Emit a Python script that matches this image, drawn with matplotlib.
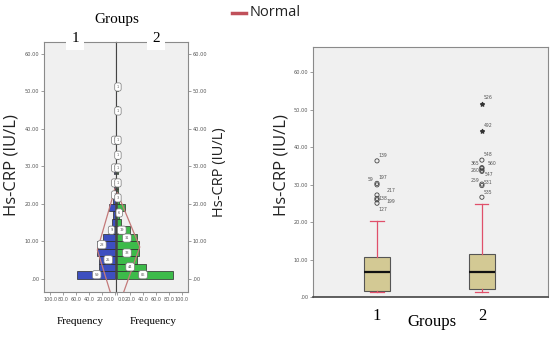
import matplotlib
matplotlib.use("Agg")
import matplotlib.pyplot as plt
from matplotlib.lines import Line2D

# --- data ---
bin_edges = list(range(0, 54, 2))          # lower edge of each 2-unit bin
freq_g1 = [59, 24, 25, 28, 28, 18, 9, 5, 3, 9, 3, 1, 1, 0, 1, 0, 0, 0, 1, 0, 0, 0, 0, 0, 0, 0, 0]
freq_g2 = [86, 44, 31, 33, 33, 31, 19, 6, 3, 12, 3, 1, 1, 0, 1, 0, 1, 0, 1, 0, 0, 0, 1, 0, 0, 1, 0]

# normal curve vertices (value, frequency)
norm1_val = [-3.5, 7.7, 22.0, 24.0]
norm1_frq = [7, 27, 3, 0]
norm2_val = [-3.5, 8.5, 23.0]
norm2_frq = [10, 35, 0]

# little count labels on the pyramid (frequency position, value)
lab1 = [(28, 1.1, "59"), (10, 5.1, "25"), (20, 9.1, "28"), (5, 13.0, "9"),
        (0, 22.4, "1"), (0, 25.6, "1"), (0, 29.6, "1"), (0, 37.0, "1")]
lab2 = [(40, 1.1, "86"), (20, 3.2, "44"), (15, 6.9, "33"), (15, 10.9, "31"),
        (7, 13.0, "19"), (3, 17.6, "6"), (1, 21.6, "3"), (1, 25.6, "1"),
        (1, 29.6, "1"), (1, 33.0, "1"), (1, 37.0, "1"), (1, 44.8, "1"), (1, 51.2, "1")]

groups = ["1", "2"]
q1 = [1.76, 2.1]
med = [6.7, 6.8]
q3 = [10.7, 11.5]
whis_lo = [1.3, 1.5]
whis_hi = [20.3, 24.8]

out1_val = [36.4, 30.0, 30.4, 27.3, 26.4, 26.0, 25.1]
out1_id = ["139", "59", "197", "217", "138", "199", "127"]
out2_val = [36.6, 34.6, 34.4, 33.9, 33.6, 30.2, 29.8, 26.7]
out2_id = ["548", "365", "560", "260", "547", "259", "531", "535"]
ext2_val = [51.7, 44.4]
ext2_id = ["526", "492"]

yticks = [0, 10, 20, 30, 40, 50, 60]
ytick_lbl = [".00", "10.00", "20.00", "30.00", "40.00", "50.00", "60.00"]
xticks = [0, 20, 40, 60, 80, 100]
xtick_lbl = ["0.0", "20.0", "40.0", "60.0", "80.0", "100.0"]

# where each case number sits next to its point (offset in points)
id_offset = {"139": (4, 4), "59": (-4.5, 3.5), "197": (4.5, 4), "217": (10, 3),
             "138": (4.5, 0), "199": (10, -1.5), "127": (4.5, -4.5),
             "526": (4.5, 4), "492": (4.5, 4), "548": (4.5, 4), "365": (-5, 3),
             "560": (7, 3.5), "260": (-5, -0.5), "547": (5.5, -2.5), "259": (-5, 2.5),
             "531": (4.5, 2), "535": (4.5, 3.5)}

W, H = 550, 337
fig = plt.figure(figsize=(5.5, 3.37), dpi=100)
fig.patch.set_facecolor("white")

def fx(px):
    return px / W

def fy(py):
    return 1 - py / H

bg = "#f0f0f0"
frame = "#8a8a8a"
blue = "#3d4fc0"
green = "#3dbb4a"
red_n = "#c47a7a"

# --- population pyramid ---
axL = fig.add_axes([fx(44), fy(292), fx(72), 250 / H])
axR = fig.add_axes([fx(116), fy(292), fx(72), 250 / H], sharey=axL)

for ax, freqs, color, nv, nf, labs in [(axL, freq_g1, blue, norm1_val, norm1_frq, lab1),
                                        (axR, freq_g2, green, norm2_val, norm2_frq, lab2)]:
    ax.set_facecolor(bg)
    lo = [b for b, f in zip(bin_edges, freqs) if f > 0]
    fr = [f for f in freqs if f > 0]
    ax.barh(lo, fr, height=2, align="edge", color=color,
            edgecolor="#2a2a2a", linewidth=0.5, zorder=2)
    ax.plot(nf, nv, color=red_n, lw=0.9, zorder=3)
    for f, v, t in labs:
        ax.text(f, v, t, fontsize=2.5, ha="center", va="center", color="#555555", zorder=4,
                bbox=dict(boxstyle="round,pad=0.6", fc="white", ec="#777777", lw=0.5))
    ax.set_xticks(xticks)
    ax.set_xticklabels(xtick_lbl, fontsize=3.5, color="#555555")
    ax.tick_params(axis="both", length=2, width=0.5, color="#777777", pad=1.5)
    for s in ax.spines.values():
        s.set_color(frame)
        s.set_linewidth(0.8)

axL.set_xlim(110, -2)
axR.set_xlim(-2, 110)
axL.get_xticklabels()[0].set_ha("right")
axR.get_xticklabels()[0].set_ha("left")
axL.set_ylim(-3.5, 63.2)
axL.set_yticks(yticks)
axL.set_yticklabels(ytick_lbl, fontsize=3.6, color="#555555")
axR.yaxis.tick_right()
axR.tick_params(axis="y", labelright=True, labelleft=False)
axR.set_yticklabels(ytick_lbl, fontsize=3.6, color="#555555")
axL.spines["right"].set_color("#444444")
axR.spines["left"].set_color("#444444")

serif = "Liberation Serif"
fig.text(fx(117), fy(20), "Groups", fontsize=11, family=serif, ha="center", va="center")
fig.text(fx(75), fy(38), "1", fontsize=11, family=serif, ha="center", va="center",
         bbox=dict(boxstyle="square,pad=0.35", fc="white", ec="none"))
fig.text(fx(156), fy(38), "2", fontsize=11, family=serif, ha="center", va="center",
         bbox=dict(boxstyle="square,pad=0.35", fc="white", ec="none"))
fig.text(fx(80), fy(322), "Frequency", fontsize=8, family=serif, ha="center", va="center")
fig.text(fx(153), fy(322), "Frequency", fontsize=8, family=serif, ha="center", va="center")

sans = "Open Sans"
fig.text(fx(12), fy(165), "Hs-CRP (IU/L)", fontsize=12, family=sans, rotation=90,
         ha="center", va="center", color="#222222")
fig.text(fx(220), fy(172), "Hs-CRP (IU/L)", fontsize=10.5, family=sans, rotation=90,
         ha="center", va="center", color="#222222")

# legend
fig.add_artist(Line2D([fx(232), fx(246)], [fy(13), fy(13)], color="#c0505a", lw=2.5))
fig.text(fx(250), fy(13), "Normal", fontsize=10.5, family=sans, ha="left", va="center",
         color="#222222")

# --- box plot ---
axB = fig.add_axes([fx(313), fy(297.3), 235 / W, 250 / H])
axB.set_facecolor(bg)
stats = []
for i in range(2):
    stats.append(dict(med=med[i], q1=q1[i], q3=q3[i], whislo=whis_lo[i], whishi=whis_hi[i],
                      fliers=[], label=groups[i]))
axB.bxp(stats, positions=[1, 2], widths=0.25, patch_artist=True, showfliers=False,
        boxprops=dict(facecolor="#d3c994", edgecolor="#555555", linewidth=0.8),
        medianprops=dict(color="#111111", linewidth=1.6),
        whiskerprops=dict(color="#e0506a", linewidth=0.9),
        capprops=dict(color="#e0506a", linewidth=0.9))

axB.scatter([1] * len(out1_val), out1_val, s=9, facecolors="none", edgecolors="#444444",
            linewidths=0.6, zorder=3)
axB.scatter([2] * len(out2_val), out2_val, s=9, facecolors="none", edgecolors="#444444",
            linewidths=0.6, zorder=3)
axB.scatter([2] * len(ext2_val), ext2_val, marker="*", s=8, color="#333333", zorder=3)

for x0, vals, ids in [(1, out1_val, out1_id), (2, out2_val, out2_id), (2, ext2_val, ext2_id)]:
    for v, t in zip(vals, ids):
        axB.annotate(t, (x0, v), xytext=id_offset[t], textcoords="offset points",
                     fontsize=3.3, color="#555555", ha="center", va="center")

axB.set_xlim(0.39, 2.63)
axB.set_ylim(0, 66.7)
axB.set_yticks(yticks)
axB.set_yticklabels(ytick_lbl, fontsize=3.6, color="#555555")
axB.set_xticks([1, 2])
axB.set_xticklabels(groups, fontsize=12, family=serif)
axB.tick_params(axis="y", length=2, width=0.5, color="#777777", pad=1.5)
axB.tick_params(axis="x", length=0, pad=8)
for s in axB.spines.values():
    s.set_color(frame)
    s.set_linewidth(0.8)
axB.spines["bottom"].set_color("#444444")
axB.spines["bottom"].set_linewidth(1.2)
fig.text(fx(432), fy(322), "Groups", fontsize=12, family=serif, ha="center", va="center")
fig.text(fx(282), fy(165), "Hs-CRP (IU/L)", fontsize=12, family=sans, rotation=90,
         ha="center", va="center", color="#222222")

fig.savefig("out.png", dpi=100)
